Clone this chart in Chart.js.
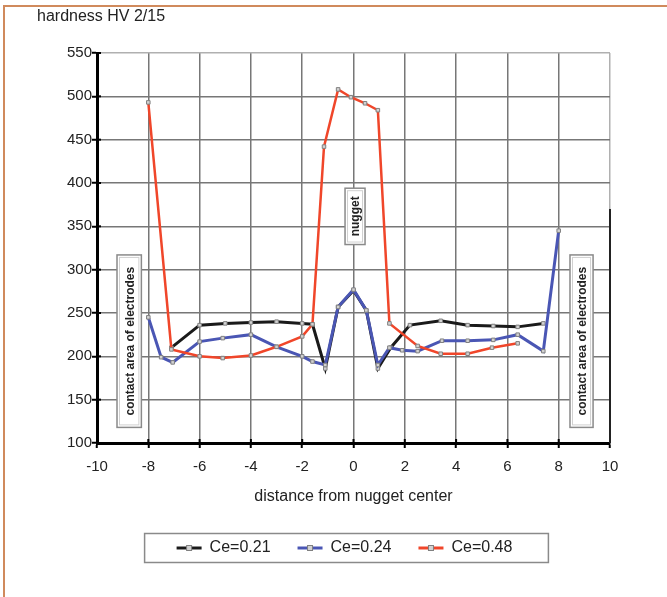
<!DOCTYPE html>
<html><head><meta charset="utf-8">
<script src="https://cdn.jsdelivr.net/npm/chart.js@4.4.1/dist/chart.umd.min.js"></script>
<style>
html,body{margin:0;padding:0;background:#fff;}
#frame{position:absolute;left:3px;top:5px;width:664px;height:592px;border-top:2px solid #d08a5c;border-left:2px solid #d08a5c;box-sizing:border-box;}
#c{position:absolute;left:0;top:0;}
</style></head><body>
<div id="frame"></div>
<canvas id="c" width="667" height="597"></canvas>
<script>
// ---- data ----
const seriesLabels = ['Ce=0.21', 'Ce=0.24', 'Ce=0.48'];

const xCe021 = [-7.1, -6, -5, -4, -3, -2, -1.6, -1.1, -0.6, 0, 0.5, 0.95, 1.45, 2.2, 3.4, 4.45, 5.45, 6.4, 7.4];
const yCe021 = [210, 236, 238, 239, 240, 238, 237, 186, 257, 276, 253, 186, 210, 236, 241, 236, 235, 234, 238];

const xCe024 = [-8, -7.5, -7.05, -6, -5.1, -4, -3, -2, -1.6, -1.1, -0.6, 0, 0.5, 0.95, 1.4, 1.9, 2.5, 3.45, 4.45, 5.45, 6.4, 7.4, 8];
const yCe024 = [245, 199, 193, 217, 221, 225, 211, 200, 194, 190, 257, 277, 253, 190, 210, 207, 206, 218, 218, 219, 225, 206, 345];

const xCe048 = [-8, -7.1, -6, -5.1, -4, -3, -2, -1.6, -1.15, -0.6, -0.1, 0.45, 0.95, 1.4, 2.5, 3.4, 4.45, 5.4, 6.4];
const yCe048 = [493, 208, 200, 198, 201, 211, 223, 237, 442, 508, 499, 492, 484, 238, 212, 203, 203, 210, 215];

const xMin = -10, xMax = 10, xStep = 2;
const yMin = 100, yMax = 550, yStep = 50;
const yAxisTitle = 'hardness HV 2/15';
const xAxisTitle = 'distance from nugget center';
const noteElectrodes = 'contact area of electrodes';
const noteNugget = 'nugget';

const FONT = "'Liberation Sans', Arial, sans-serif";
const toPts = (xs, ys) => xs.map((x, i) => ({x, y: ys[i]}));

const marker = {pointStyle: 'rect', pointRadius: 2.5, pointBackgroundColor: '#d2d2d2', pointBorderColor: '#808080', pointBorderWidth: 1, pointHoverRadius: 2.5};

const datasets = [
  Object.assign({label: seriesLabels[0], data: toPts(xCe021, yCe021), borderColor: '#1a1a1a', borderWidth: 3, order: 2}, marker),
  Object.assign({label: seriesLabels[1], data: toPts(xCe024, yCe024), borderColor: '#4a56b4', borderWidth: 3, order: 1}, marker),
  Object.assign({label: seriesLabels[2], data: toPts(xCe048, yCe048), borderColor: '#f0462a', borderWidth: 2.5, order: 0}, marker)
];

const LEG_SHIFT = -9;

const deco = {
  id: 'deco',
  afterLayout(chart) {
    const lg = chart.legend;
    if (!lg) return;
    lg.left += LEG_SHIFT; lg.right += LEG_SHIFT;
    (lg.legendHitBoxes || []).forEach(h => { h.left += LEG_SHIFT; });
  },
  afterDatasetsDraw(chart) {
    const {ctx, chartArea: a, scales: {x, y}} = chart;
    ctx.save();
    // inward half of the crossing tick marks
    ctx.strokeStyle = '#000'; ctx.lineWidth = 2;
    y.ticks.forEach(t => { const py = y.getPixelForValue(t.value); ctx.beginPath(); ctx.moveTo(a.left, py); ctx.lineTo(a.left + 4, py); ctx.stroke(); });
    x.ticks.forEach(t => { const px = x.getPixelForValue(t.value); ctx.beginPath(); ctx.moveTo(px, a.bottom); ctx.lineTo(px, a.bottom - 4); ctx.stroke(); });
    // partial dark right border
    ctx.lineWidth = 2; ctx.strokeStyle = '#222';
    ctx.beginPath(); ctx.moveTo(x.getPixelForValue(xMax), y.getPixelForValue(370)); ctx.lineTo(x.getPixelForValue(xMax), y.getPixelForValue(yMin)); ctx.stroke();
    // annotation boxes
    const boxes = [
      {t: noteElectrodes, x0: -9.22, x1: -8.27, y0: 118, y1: 317},
      {t: noteElectrodes, x0: 8.44, x1: 9.34, y0: 118, y1: 317},
      {t: noteNugget, x0: -0.33, x1: 0.45, y0: 329, y1: 394}
    ];
    boxes.forEach(b => {
      const l = x.getPixelForValue(b.x0), r = x.getPixelForValue(b.x1);
      const tp = y.getPixelForValue(b.y1), bt = y.getPixelForValue(b.y0);
      ctx.fillStyle = '#fff';
      ctx.fillRect(l, tp, r - l, bt - tp);
      ctx.strokeStyle = '#8a8a8a'; ctx.lineWidth = 1.5;
      ctx.strokeRect(l, tp, r - l, bt - tp);
      ctx.strokeStyle = '#d0d0d0'; ctx.lineWidth = 1;
      ctx.strokeRect(l + 2.5, tp + 2.5, r - l - 5, bt - tp - 5);
      ctx.save();
      ctx.translate((l + r) / 2, (tp + bt) / 2);
      ctx.rotate(-Math.PI / 2);
      ctx.fillStyle = '#222';
      ctx.font = 'bold 12px ' + FONT;
      ctx.textAlign = 'center'; ctx.textBaseline = 'middle';
      ctx.fillText(b.t, 0, 1);
      ctx.restore();
    });
    ctx.restore();
  },
  afterDraw(chart) {
    const {ctx, chartArea: a} = chart;
    ctx.save();
    // y-axis title at top-left
    ctx.fillStyle = '#222';
    ctx.font = '16px ' + FONT;
    ctx.textAlign = 'left'; ctx.textBaseline = 'middle';
    ctx.fillText(yAxisTitle, a.left - 60, 17);
    // legend frame + sample markers
    const lg = chart.legend;
    const hb = lg.legendHitBoxes;
    if (hb && hb.length) {
      const first = hb[0], last = hb[hb.length - 1];
      const cy = first.top + first.height / 2;
      const l = first.left - 32, r = last.left + last.width + 36;
      ctx.strokeStyle = '#8a8a8a'; ctx.lineWidth = 1.5;
      ctx.strokeRect(l, cy - 14.5, r - l, 29);
      hb.forEach(h => {
        ctx.fillStyle = '#d2d2d2'; ctx.strokeStyle = '#808080'; ctx.lineWidth = 1;
        ctx.fillRect(h.left + 12.5 - 2.5, cy - 2.5, 5, 5);
        ctx.strokeRect(h.left + 12.5 - 2.5, cy - 2.5, 5, 5);
      });
    }
    ctx.restore();
  }
};

new Chart(document.getElementById('c'), {
  type: 'scatter',
  data: {datasets},
  options: {
    responsive: false,
    animation: false,
    devicePixelRatio: 1,
    showLine: true,
    elements: {line: {tension: 0}},
    layout: {padding: {left: 0, right: 57, top: 53, bottom: 31}},
    plugins: {
      tooltip: {enabled: false},
      title: {display: false},
      legend: {
        display: true,
        position: 'bottom',
        fullSize: false,
        align: 'center',
        labels: {
          boxWidth: 25, boxHeight: 3, padding: 27,
          color: '#222',
          font: {family: FONT, size: 16},
          sort: (a, b) => a.datasetIndex - b.datasetIndex,
          generateLabels: (chart) => chart.data.datasets.map((ds, i) => ({
            text: ds.label, fillStyle: ds.borderColor, strokeStyle: ds.borderColor,
            lineWidth: 0, hidden: false, datasetIndex: i, fontColor: '#222'
          }))
        }
      }
    },
    scales: {
      x: {
        type: 'linear', min: xMin, max: xMax,
        afterFit: (s) => { s.height = 70; },
        ticks: {stepSize: xStep, padding: 10, color: '#222', font: {family: FONT, size: 15}, maxRotation: 0},
        grid: {
          color: (c) => (c.tick && c.tick.value === xMax) ? '#b0b0b0' : '#777',
          lineWidth: 1.5, tickLength: 5, tickColor: '#000', tickWidth: 2, drawTicks: true
        },
        border: {color: '#000', width: 3},
        title: {display: true, text: xAxisTitle, color: '#222', font: {family: FONT, size: 16}, padding: {top: 0, bottom: 7}}
      },
      y: {
        type: 'linear', min: yMin, max: yMax,
        afterFit: (s) => { s.width = 97; },
        ticks: {stepSize: yStep, padding: 0, color: '#222', font: {family: FONT, size: 15}},
        grid: {
          color: (c) => (c.tick && c.tick.value === yMax) ? '#b0b0b0' : '#777',
          lineWidth: 1.5, tickLength: 5, tickColor: '#000', tickWidth: 2
        },
        border: {color: '#000', width: 3}
      }
    }
  },
  plugins: [deco]
});
</script>
</body></html>
